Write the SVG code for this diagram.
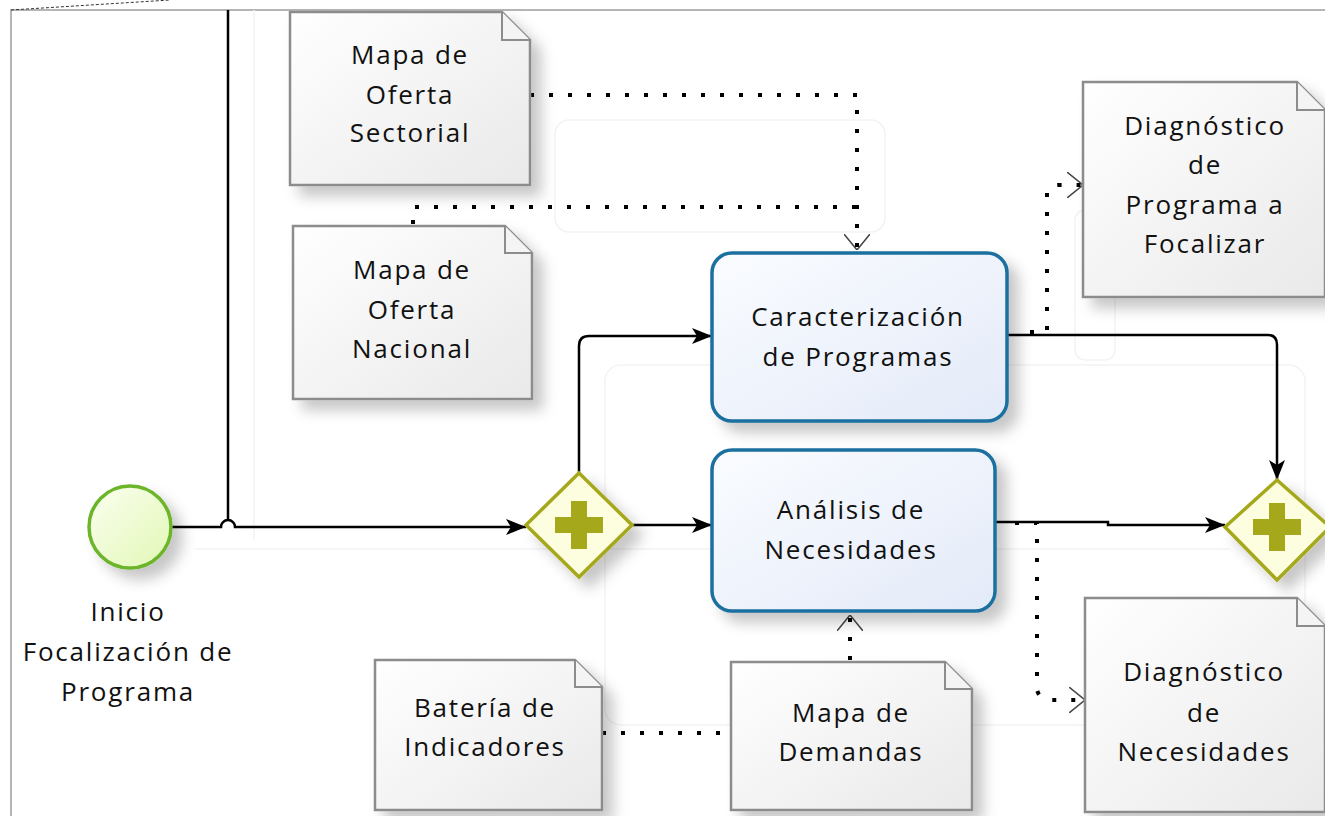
<svg xmlns="http://www.w3.org/2000/svg" width="1325" height="816" viewBox="0 0 1325 816">
<defs>
<linearGradient id="docg" x1="0" y1="0" x2="1" y2="1"><stop offset="0" stop-color="#ffffff"/><stop offset="1" stop-color="#e9e9e9"/></linearGradient>
<linearGradient id="taskg" x1="0" y1="0" x2="1" y2="1"><stop offset="0" stop-color="#fafcff"/><stop offset="1" stop-color="#e3eaf8"/></linearGradient>
<linearGradient id="startg" x1="0" y1="0" x2="1" y2="1"><stop offset="0" stop-color="#fbfff0"/><stop offset="1" stop-color="#e2f7b5"/></linearGradient>
<filter id="sh" x="-20%" y="-20%" width="150%" height="150%"><feDropShadow dx="10" dy="10" stdDeviation="7" flood-color="#000" flood-opacity="0.22"/></filter>
<marker id="arr" viewBox="0 0 20 16" refX="20" refY="8" markerWidth="20" markerHeight="16" markerUnits="userSpaceOnUse" orient="auto"><path d="M0,0 L20,8 L0,16 L5,8 Z" fill="#000"/></marker>
<marker id="open" viewBox="0 0 16 26" refX="16" refY="13" markerWidth="16" markerHeight="26" markerUnits="userSpaceOnUse" orient="auto"><path d="M0,0 L16,13 L0,26" fill="none" stroke="#444" stroke-width="1.5"/></marker>
<style>
.doc{fill:url(#docg);stroke:#8c8c8c;stroke-width:2.5;filter:url(#sh)}
.fold{fill:#f4f4f4;stroke:#8c8c8c;stroke-width:2}
.task{fill:url(#taskg);stroke:#1b6fa0;stroke-width:3.5;filter:url(#sh)}
.gw{fill:#fdfde0;stroke:#a6a81c;stroke-width:3.5;filter:url(#sh)}
.plus{fill:#a6a81c}
.flow{fill:none;stroke:#000;stroke-width:2.5}
.assoc{fill:none;stroke:#000;stroke-width:4;stroke-dasharray:4 15}
.t{font-family:"Open Sans","DejaVu Sans",sans-serif;font-size:26px;letter-spacing:1.8px;fill:#111;text-anchor:middle}
.ghost{fill:none;stroke:#f3f3f3;stroke-width:1.5}
</style>
</defs>
<rect width="1325" height="816" fill="#fff"/>
<g id="frame">
<path d="M11,816 V10 H1325" fill="none" stroke="#b5b5b5" stroke-width="2"/>
<path d="M11,10 L170,0" stroke="#333" stroke-width="1" stroke-dasharray="3 2"/>
</g>
<g id="ghosts">
<line x1="254" y1="10" x2="254" y2="540" class="ghost"/>
<path d="M195,549 H1230" class="ghost"/>
<rect x="555" y="120" width="330" height="112" rx="14" class="ghost"/>
<rect x="605" y="365" width="700" height="360" rx="16" class="ghost"/>
<rect x="1075" y="210" width="40" height="150" rx="10" class="ghost"/>
</g>
<g id="connectors">
<path d="M172,527 H221 A7,7 0 0 1 235,527 H526" class="flow" marker-end="url(#arr)"/>
<path d="M228,10 V519" class="flow" stroke-width="3"/>
<path d="M579,473 V346 Q579,336 589,336 H712" class="flow" marker-end="url(#arr)"/>
<path d="M632,525 H712" class="flow" marker-end="url(#arr)"/>
<path d="M1007,335 H1268 Q1277,335 1277,345 V480" class="flow" marker-end="url(#arr)"/>
<path d="M995,522 H1108 V525 H1225" class="flow" marker-end="url(#arr)"/>
<path d="M530,95 H857 V250" class="assoc" marker-end="url(#open)"/>
<path d="M413,224 V207 H855" class="assoc"/>
<path d="M1030,332 H1047 V190 Q1050,185 1060,185 H1083" class="assoc" marker-end="url(#open)"/>
<path d="M1015,523 H1037 V690 Q1040,700 1050,700 H1085" class="assoc" marker-end="url(#open)"/>
<path d="M850,660 V615" class="assoc" marker-end="url(#open)"/>
<path d="M602,733 H731" class="assoc"/>
</g>
<g id="start">
<circle cx="130" cy="527" r="41" fill="url(#startg)" stroke="#6cb52c" stroke-width="3.5" filter="url(#sh)"/>
<text class="t" x="128" y="621">Inicio</text>
<text class="t" x="128" y="661">Focalización de</text>
<text class="t" x="128" y="701">Programa</text>
</g>
<g id="gw1">
<path d="M579,473 L632,525 L579,577 L526,525 Z" class="gw"/>
<path d="M571,501 H587 V517 H603 V533 H587 V549 H571 V533 H555 V517 H571 Z" class="plus"/>
</g>
<g id="gw2">
<path d="M1277,480 L1330,527 L1277,580 L1225,527 Z" class="gw"/>
<path d="M1269,503 H1285 V519 H1301 V535 H1285 V551 H1269 V535 H1253 V519 H1269 Z" class="plus"/>
</g>
<g id="task1">
<rect x="712" y="253" width="295" height="168" rx="20" class="task"/>
<text class="t" x="858" y="326">Caracterización</text>
<text class="t" x="858" y="366">de Programas</text>
</g>
<g id="task2">
<rect x="712" y="450" width="283" height="161" rx="20" class="task"/>
<text class="t" x="851" y="519">Análisis de</text>
<text class="t" x="851" y="559">Necesidades</text>
</g>
<g id="doc1">
<path d="M290,12 H502 L530,40 V185 H290 Z" class="doc"/>
<path d="M502,12 V40 H530" class="fold"/>
<text class="t" x="410" y="64">Mapa de</text>
<text class="t" x="410" y="104">Oferta</text>
<text class="t" x="410" y="142">Sectorial</text>
</g>
<g id="doc2">
<path d="M293,226 H505 L532,253 V399 H293 Z" class="doc"/>
<path d="M505,226 V253 H532" class="fold"/>
<text class="t" x="412" y="279">Mapa de</text>
<text class="t" x="412" y="319">Oferta</text>
<text class="t" x="412" y="358">Nacional</text>
</g>
<g id="doc3">
<path d="M1083,82 H1297 L1325,110 V297 H1083 Z" class="doc"/>
<path d="M1297,82 V110 H1325" class="fold"/>
<text class="t" x="1205" y="135">Diagnóstico</text>
<text class="t" x="1205" y="174">de</text>
<text class="t" x="1205" y="214">Programa a</text>
<text class="t" x="1205" y="253">Focalizar</text>
</g>
<g id="doc4">
<path d="M1085,598 H1297 L1325,626 V812 H1085 Z" class="doc"/>
<path d="M1297,598 V626 H1325" class="fold"/>
<text class="t" x="1204" y="681">Diagnóstico</text>
<text class="t" x="1204" y="722">de</text>
<text class="t" x="1204" y="761">Necesidades</text>
</g>
<g id="doc5">
<path d="M375,660 H575 L602,687 V810 H375 Z" class="doc"/>
<path d="M575,660 V687 H602" class="fold"/>
<text class="t" x="485" y="717">Batería de</text>
<text class="t" x="485" y="756">Indicadores</text>
</g>
<g id="doc6">
<path d="M731,662 H945 L972,689 V810 H731 Z" class="doc"/>
<path d="M945,662 V689 H972" class="fold"/>
<text class="t" x="851" y="722">Mapa de</text>
<text class="t" x="851" y="761">Demandas</text>
</g>
</svg>
